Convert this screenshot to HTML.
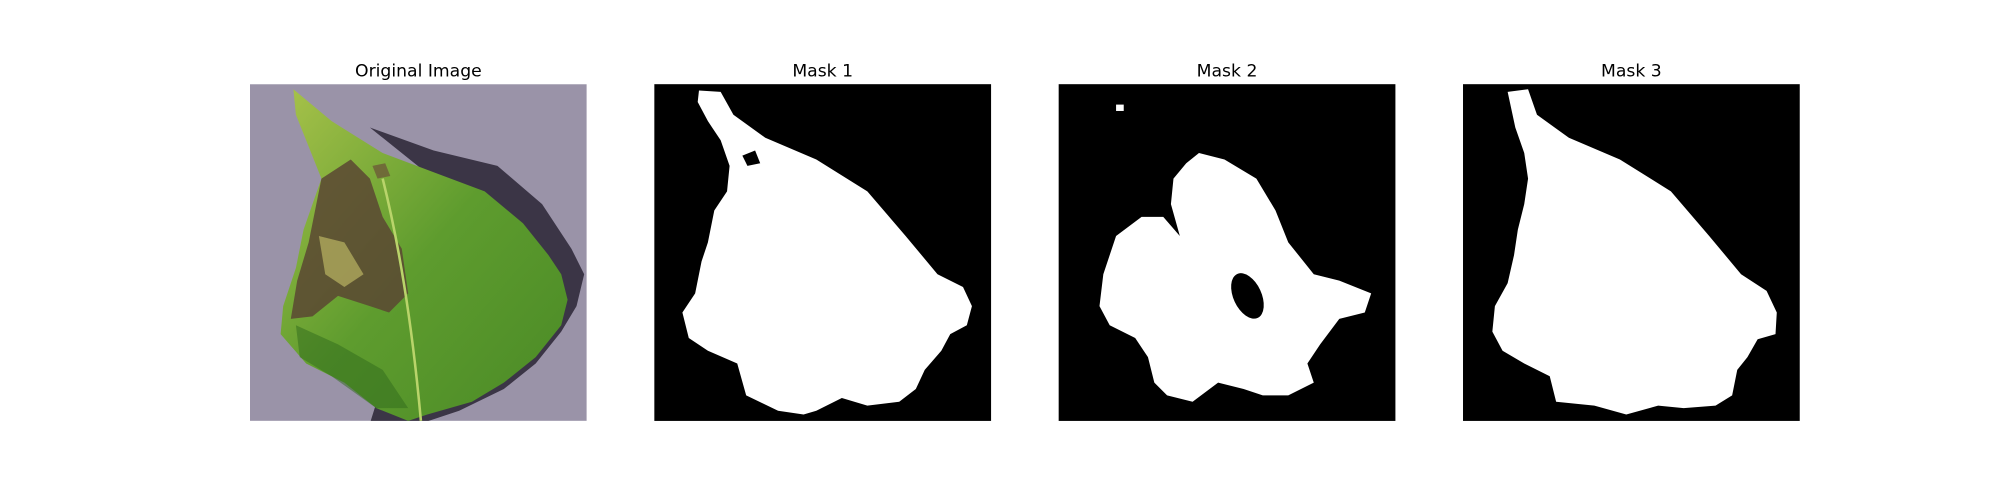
<!DOCTYPE html>
<html><head><meta charset="utf-8"><style>
html,body{margin:0;padding:0;background:#fff;}
svg{display:block;}
text{font-family:"DejaVu Sans","Liberation Sans",sans-serif;font-size:13.5px;fill:#000;}
</style></head><body>
<svg width="2000" height="500" viewBox="0 0 1568 392" preserveAspectRatio="none" xmlns="http://www.w3.org/2000/svg">
<defs>
<linearGradient id="lg" x1="0" y1="0" x2="1" y2="1">
<stop offset="0" stop-color="#a8c24a"/><stop offset="0.5" stop-color="#5e9c2e"/><stop offset="1" stop-color="#4a8a26"/>
</linearGradient>
<clipPath id="c0"><rect x="196" y="66" width="264" height="264"/></clipPath>
</defs>
<rect width="1568" height="392" fill="#fff"/>

<g clip-path="url(#c0)">
<rect x="196" y="66" width="264" height="264" fill="#9a93a8"/>
<path fill="#3b3546" d="M290,100 L340,118 L390,130 L425,160 L448,195 L458,215 L452,240 L440,260 L420,285 L395,305 L360,322 L330,332 L290,332 L300,300 L380,260 L420,220 L400,170 L340,140 Z"/>
<path fill="url(#lg)" d="M230,70 L260,95 L300,120 L340,135 L380,150 L410,175 L430,200 L440,215 L445,235 L440,255 L420,280 L395,300 L370,315 L335,325 L320,330 L295,320 L270,300 L240,285 L220,262 L222,240 L232,210 L238,180 L245,160 L252,140 L240,110 L232,90 Z"/>
<path fill="#5a4632" opacity="0.85" d="M252,140 L275,125 L290,140 L300,170 L315,195 L320,230 L305,245 L290,240 L265,232 L245,248 L228,250 L233,220 L242,190 L247,165 Z"/>
<path fill="#c9c46a" opacity="0.6" d="M250,185 L270,190 L285,215 L270,225 L255,215 Z"/>
<path fill="#2f6a1c" opacity="0.5" d="M232,255 L265,270 L300,290 L320,320 L295,320 L260,295 L235,280 Z"/>
<path fill="#6b5038" opacity="0.7" d="M292,130 L302,128 L306,138 L296,140 Z"/>
<path d="M300,140 Q320,220 330,330" stroke="#b9d46a" stroke-width="2" fill="none"/>
</g>
<text x="328" y="60" text-anchor="middle">Original Image</text>

<g>
<rect x="513" y="66" width="264" height="264" fill="#000"/>
<path fill="#fff" d="M548,71 L565,72 L575,90 L600,108 L640,125 L680,150 L710,185 L735,215 L755,225 L762,240 L758,255 L745,262 L738,275 L725,290 L718,305 L705,315 L680,318 L660,312 L640,322 L630,325 L610,322 L585,310 L578,285 L555,275 L540,265 L535,245 L545,230 L550,205 L555,190 L560,165 L570,150 L572,130 L565,110 L555,95 L547,80 Z"/>
<path fill="#000" d="M582,122 L592,118 L596,128 L586,130 Z"/>
</g>
<text x="645" y="60" text-anchor="middle">Mask 1</text>

<g>
<rect x="830" y="66" width="264" height="264" fill="#000"/>
<path fill="#fff" d="M940,120 L960,125 L985,140 L1000,165 L1010,190 L1030,215 L1050,220 L1075,230 L1070,245 L1050,250 L1035,270 L1025,285 L1030,300 L1010,310 L990,310 L975,305 L955,300 L935,315 L915,310 L905,300 L900,280 L890,265 L870,255 L862,240 L865,215 L875,185 L895,170 L912,170 L925,185 L918,160 L920,140 L930,128 Z"/>
<ellipse cx="978" cy="232" rx="11" ry="19" fill="#000" transform="rotate(-25 978 232)"/>
<rect x="875" y="82" width="6" height="5" fill="#fff"/>
</g>
<text x="962" y="60" text-anchor="middle">Mask 2</text>

<g>
<rect x="1147" y="66" width="264" height="264" fill="#000"/>
<path fill="#fff" d="M1182,72 L1198,70 L1205,90 L1230,108 L1270,125 L1310,150 L1340,185 L1365,215 L1385,228 L1393,245 L1392,262 L1378,266 L1370,280 L1362,290 L1358,310 L1345,318 L1320,320 L1300,318 L1275,325 L1250,318 L1220,315 L1215,295 L1195,285 L1178,275 L1170,260 L1172,240 L1182,222 L1187,200 L1190,180 L1195,160 L1198,140 L1195,120 L1188,100 Z"/>
</g>
<text x="1279" y="60" text-anchor="middle">Mask 3</text>
</svg>
</body></html>
